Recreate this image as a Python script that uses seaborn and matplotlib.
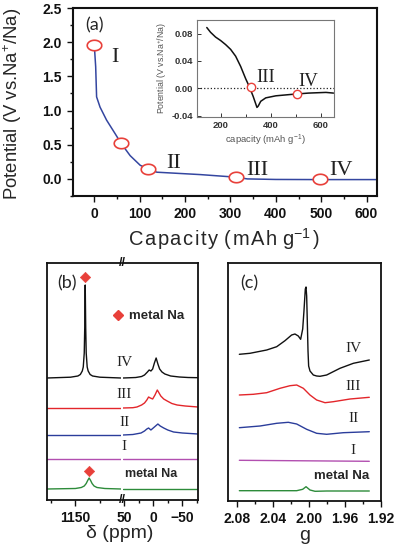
import numpy as np
import seaborn as sns
import matplotlib.pyplot as plt
from matplotlib.lines import Line2D
from matplotlib.ticker import FormatStrFormatter, MultipleLocator, FixedLocator

sns.set_theme(style='ticks')
plt.rcParams['font.family'] = ['Liberation Sans', 'DejaVu Sans']
plt.rcParams['mathtext.fontset'] = 'custom'
plt.rcParams['mathtext.rm'] = 'Liberation Sans'
plt.rcParams['mathtext.it'] = 'Liberation Sans:italic'

# ---- (a) 방전 곡선
cap = [0, 3, 5, 12.6, 27, 46, 59, 79, 101, 120, 138, 234, 313, 337, 400, 500, 625]
volt = [1.95, 1.64, 1.20, 1.05, 0.86, 0.66, 0.52, 0.34, 0.20, 0.14, 0.098, 0.063,
        0.025, 0.0, -0.008, -0.01, -0.01]
pt_cap = [0, 59, 119, 313, 497]
pt_volt = [1.955, 0.52, 0.147, 0.024, 0.0]
pt_name = ['I', 'II', 'III', 'IV']
lab_cap = [46, 175, 360, 543]
lab_volt = [1.78, 0.22, 0.12, 0.12]

# inset
ins_cap = [145, 160, 180, 200, 220, 240, 260, 280, 300, 315, 330, 345, 350, 360,
           380, 420, 480, 550, 620, 650]
ins_volt = [0.089, 0.082, 0.075, 0.070, 0.064, 0.057, 0.047, 0.032, 0.014, 0.002,
            -0.012, -0.028, -0.026, -0.019, -0.014, -0.011, -0.009, -0.007, -0.006, -0.007]
ins_pt_cap = [320, 503]
ins_pt_volt = [0.0018, -0.008]
ins_lab_cap = [380, 549]
ins_lab_volt = [0.0164, 0.010]

# ---- (b) NMR, 두 구간 (고 ppm / 저 ppm)
b_names = ['metal Na', 'I', 'II', 'III', 'IV']
b_colors = ['#2d8b3a', '#b24fb0', '#2b3d9b', '#e3262b', '#111111']
b_offset = [11, 41, 65, 92, 122]
hi_ppm = {
    'metal Na': [1208, 1150, 1138, 1132, 1128, 1125, 1122, 1119, 1116, 1112, 1106, 1090, 1057],
    'I': [1208, 1057], 'II': [1208, 1057], 'III': [1208, 1057],
    'IV': [1208, 1160, 1145, 1140, 1136, 1134, 1132, 1131, 1130, 1129, 1128, 1126, 1124,
           1120, 1115, 1100, 1057],
}
hi_int = {
    'metal Na': [0, 0.5, 1.5, 3, 5.5, 8.5, 11, 8.5, 5.5, 3, 1.5, 0.5, 0],
    'I': [0, 0], 'II': [0, 0], 'III': [0, 0],
    'IV': [0, 0.8, 2, 3.5, 7, 11, 25, 50, 93, 50, 25, 11, 7, 3.5, 2, 0.8, 0],
}
lo_ppm = {
    'metal Na': [52, -77], 'I': [52, -77],
    'II': [52, 35, 21, 15, 11, 8, 4, 0, -4, -8, -12, -18, -25, -35, -50, -77],
    'III': [52, 35, 28, 20, 15, 11, 8, 5, 1, -3, -7, -10, -13, -18, -24, -32, -41, -55, -77],
    'IV': [52, 30, 20, 15, 10, 7, 4, 1, -2, -5, -8, -11, -15, -20, -30, -45, -60, -77],
}
lo_int = {
    'metal Na': [0, 0], 'I': [0, 0],
    'II': [0, 0.5, 2, 4, 6, 7, 5, 7, 9, 11, 9, 7, 5, 3, 2, 1],
    'III': [0, 0.3, 1, 3, 5, 8, 11, 10, 9, 13, 18, 15, 12, 9, 7, 4.5, 3, 2, 1],
    'IV': [0, 0.5, 1.5, 3, 6, 8, 7, 9, 15, 20, 14, 9, 6, 4, 2, 1, 0.5, 0.3],
}
b_lab_val = [None, 53, 78, 106, 137]
dia_ppm = [1130, 1122]
dia_val = [223, 29]

# ---- (c) EPR
c_names = ['metal Na', 'I', 'II', 'III', 'IV']
c_g = {
    'metal Na': [2.0774, 2.0137, 2.0070, 2.0033, 1.9989, 1.9933, 1.9804, 1.9330],
    'I': [2.0774, 1.9330],
    'II': [2.0774, 2.0544, 2.0359, 2.0230, 2.0137, 2.0026, 1.9915, 1.9804, 1.9619, 1.9330],
    'III': [2.0774, 2.0619, 2.0470, 2.0322, 2.0211, 2.0137, 2.0063, 1.9989, 1.9915,
            1.9822, 1.9730, 1.9544, 1.9330],
    'IV': [2.0774, 2.0656, 2.0470, 2.0359, 2.0267, 2.0193, 2.0156, 2.0119, 2.0093, 2.0070,
           2.0056, 2.0041, 2.0033, 2.0026, 2.0019, 2.0011, 2.0004, 1.9989, 1.9952, 1.9915,
           1.9878, 1.9804, 1.9656, 1.9507, 1.9330],
}
c_val = {
    'metal Na': [10.3, 10.3, 11.7, 14.3, 11, 9.7, 10, 10],
    'I': [40.7, 39.7],
    'II': [73.3, 75, 77.7, 78.7, 77, 71.7, 67.7, 66.7, 68.3, 69.3],
    'III': [106, 106.7, 108.3, 112.7, 115.3, 116, 112.7, 106, 101, 98.3, 99.3, 102, 103.7],
    'IV': [146.7, 147.7, 151, 154.3, 160.3, 166, 167, 165, 161.7, 172, 190, 212, 214, 205,
           180, 150, 135, 130, 126, 125, 124.7, 126, 132.7, 137.7, 141],
}
c_lab_val = [25, 51, 83, 114, 153]

red = '#e8403a'
W, H = 398, 548
fig = plt.figure(figsize=(W / 100, H / 100), dpi=100)


def rect(l, t, r, b):
    return [l / W, 1 - b / H, (r - l) / W, (b - t) / H]


def bold_ticks(a, size):
    for t in a.get_xticklabels() + a.get_yticklabels():
        t.set_fontweight('bold')
        t.set_fontsize(size)


serif = ['Liberation Serif', 'DejaVu Serif']
hs = '\u200a'  # 자간 (hair space)

# ================= (a)
ax = fig.add_axes(rect(73, 8, 377, 196))
sns.lineplot(x=cap, y=volt, ax=ax, color='#3446a0', lw=1.1, sort=False, estimator=None)
t = np.linspace(0, 2 * np.pi, 40)
ell = list(zip(np.cos(t), 0.72 * np.sin(t)))
sns.scatterplot(x=pt_cap, y=pt_volt, ax=ax, marker=ell, s=110, color='white',
                edgecolor=red, linewidth=1.2, zorder=4)
for n, xx, yy in zip(pt_name, lab_cap, lab_volt):
    ax.text(xx, yy, n, family=serif, fontsize=16, ha='center', va='center', color='#222')
ax.text(0, 2.25, '(a)', fontsize=13, ha='center', va='center', family=['Lato', 'DejaVu Sans'])
ax.set_xlim(-47, 623)
ax.set_ylim(-0.25, 2.5)
ax.set_xticks(range(0, 601, 100))
ax.xaxis.set_minor_locator(MultipleLocator(50))
ax.set_yticks([0, 0.5, 1.0, 1.5, 2.0, 2.5])
ax.yaxis.set_minor_locator(MultipleLocator(0.25))
ax.yaxis.set_major_formatter(FormatStrFormatter('%.1f'))
ax.tick_params(which='both', direction='out', width=1, colors='#111')
ax.tick_params(which='major', length=4, pad=4)
ax.tick_params(which='minor', length=2.5)
bold_ticks(ax, 10)
for s in ax.spines.values():
    s.set_linewidth(1.5)
    s.set_color('#111')
xl = hs.join('Capacity') + ' ' + hs.join('(mAh') + ' g$^{-1}$' + hs + ')'
ax.set_xlabel(xl, fontsize=14.5, family=['Liberation Sans', 'DejaVu Sans'])
ax.xaxis.set_label_coords(0.497, -0.16)
ax.set_ylabel('Potential (V vs.Na$^{+}$/Na)', fontsize=13.3)
ax.yaxis.set_label_coords(-0.16, 0.49)

# inset
ai = fig.add_axes(rect(197, 20, 334, 117))
ai.axhline(0, ls=':', color='#222', lw=0.9)
sns.lineplot(x=ins_cap, y=ins_volt, ax=ai, color='#111', lw=1.1, sort=False, estimator=None)
sns.scatterplot(x=ins_pt_cap, y=ins_pt_volt, ax=ai, s=36, color='white',
                edgecolor=red, linewidth=1.0, zorder=4)
for n, xx, yy in zip(['III', 'IV'], ins_lab_cap, ins_lab_volt):
    ai.text(xx, yy, n, family=serif, fontsize=13.5, ha='center', va='center', color='#222')
ai.set_xlim(106, 652)
ai.set_ylim(-0.042, 0.1)
ai.set_xticks([200, 400, 600])
ai.xaxis.set_minor_locator(FixedLocator([300, 500]))
ai.set_yticks([-0.04, 0.0, 0.04, 0.08])
ai.yaxis.set_major_formatter(FormatStrFormatter('%.2f'))
ai.tick_params(which='both', direction='in', colors='#333', width=0.7)
ai.tick_params(which='major', length=3, pad=3)
ai.tick_params(which='minor', length=2)
bold_ticks(ai, 6.8)
for s in ai.spines.values():
    s.set_linewidth(0.8)
    s.set_color('#777')
ai.set_xlabel('capacity (mAh g$^{-1}$)', fontsize=6.8, color='#555', labelpad=2)
ai.set_ylabel('Potential (V vs.Na$^{+}$/Na)', fontsize=6.3, color='#555', labelpad=2)

# ================= (b)
bl = fig.add_axes(rect(47, 263, 121, 500))
br = fig.add_axes(rect(123, 263, 198, 500))
for n, c, off in zip(b_names, b_colors, b_offset):
    sns.lineplot(x=hi_ppm[n], y=np.array(hi_int[n]) + off, ax=bl, color=c, lw=1.0,
                 sort=False, estimator=None)
    sns.lineplot(x=lo_ppm[n], y=np.array(lo_int[n]) + off, ax=br, color=c, lw=1.0,
                 sort=False, estimator=None)
sns.scatterplot(x=dia_ppm, y=dia_val, ax=bl, marker='D', s=28, color=red,
                edgecolor=red, zorder=4)
for n, v in zip(b_names, b_lab_val):
    if v is not None:
        br.text(50, v, n, family=serif, fontsize=11, ha='center', va='center',
                color='#222', clip_on=False)
br.text(3, 26, 'metal Na', fontsize=9, fontweight='bold', ha='center', va='center')
bl.set_xlim(1208, 1057)
br.set_xlim(52, -77)
for a in (bl, br):
    a.set_ylim(0, 237)
    a.set_yticks([])
    a.set_xlabel('')
    a.set_ylabel('')
    a.tick_params(which='both', direction='out', width=1, colors='#111')
    a.tick_params(which='major', length=4, pad=4)
    a.tick_params(which='minor', length=2.5)
    for s in a.spines.values():
        s.set_linewidth(1.3)
        s.set_color('#111')
bl.spines['right'].set_visible(False)
br.spines['left'].set_visible(False)
bl.set_xticks([1150])
bl.xaxis.set_minor_locator(FixedLocator([1200, 1100]))
br.set_xticks([50, 0, -50])
br.xaxis.set_minor_locator(FixedLocator([25, -25, -75]))
bold_ticks(bl, 10)
bold_ticks(br, 10)
for yy in (263, 500):
    fig.text(122 / W, 1 - yy / H, '//', fontsize=9, fontweight='bold', ha='center',
             va='center', color='#111')
fig.text(120 / W, 1 - 533 / H, 'δ (ppm)', fontsize=14, ha='center', va='center')
fig.text(67.5 / W, 1 - 283 / H, '(b)', fontsize=13, ha='center', va='center',
         family=['Lato', 'DejaVu Sans'])
fig.legend(handles=[Line2D([], [], marker='D', ls='none', color=red, markersize=5)],
           labels=['metal Na'], loc='center left',
           bbox_to_anchor=(105 / W, 1 - 316 / H), frameon=False, handlelength=1,
           handletextpad=0.3, borderpad=0, prop={'weight': 'bold', 'size': 9.5})

# ================= (c)
axc = fig.add_axes(rect(228, 263, 381, 501))
for n, c in zip(c_names, b_colors):
    sns.lineplot(x=c_g[n], y=c_val[n], ax=axc, color=c, lw=1.0, sort=False, estimator=None)
for n, v in zip(c_names, c_lab_val):
    if n == 'metal Na':
        axc.text(1.964, v, n, fontsize=9.5, fontweight='bold', ha='center', va='center')
    else:
        axc.text(1.951, v, n, family=serif, fontsize=11, ha='center', va='center', color='#222')
axc.set_xlim(2.09, 1.92)
axc.set_ylim(0, 238)
axc.set_yticks([])
axc.set_xticks([2.08, 2.04, 2.00, 1.96, 1.92])
axc.xaxis.set_minor_locator(FixedLocator([2.06, 2.02, 1.98, 1.94]))
axc.xaxis.set_major_formatter(FormatStrFormatter('%.2f'))
axc.tick_params(which='both', direction='out', width=1, colors='#111')
axc.tick_params(which='major', length=4, pad=4)
axc.tick_params(which='minor', length=2.5)
bold_ticks(axc, 10)
for s in axc.spines.values():
    s.set_linewidth(1.3)
    s.set_color('#111')
axc.set_xlabel('g', fontsize=14, labelpad=1)
axc.set_ylabel('')
fig.text(249 / W, 1 - 283 / H, '(c)', fontsize=13, ha='center', va='center',
         family=['Lato', 'DejaVu Sans'])

fig.savefig('out.png', dpi=100)
